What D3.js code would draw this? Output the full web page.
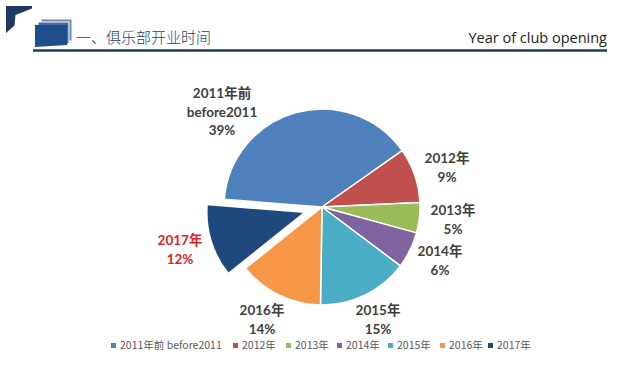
<!DOCTYPE html>
<html>
<head>
<meta charset="utf-8">
<script src="https://cdn.jsdelivr.net/npm/d3@7"></script>
<style>
  body { margin: 0; background: #fff; }
  svg { display: block; }
</style>
</head>
<body>
<div id="chart"></div>
<script>
const width = 640,
  height = 374;

// data
const categories = ["2011年前", "2012年", "2013年", "2014年", "2015年", "2016年", "2017年"];
const legendNames = ["2011年前 before2011", "2012年", "2013年", "2014年", "2015年", "2016年", "2017年"];
const shares = [39, 9, 5, 6, 15, 14, 12];
const colors = ["#4f81bd", "#c0504d", "#9bbb59", "#8064a2", "#4bacc6", "#f79646", "#1f497d"];

const titleCn = "一、俱乐部开业时间";
const titleEn = "Year of club opening";

const svg = d3.select("#chart")
  .append("svg")
  .attr("width", width)
  .attr("height", height);

// header decoration
svg.append("path")
  .attr("d", "M6,6 L32,6 L32,8.5 L15.5,15 L14.5,25.5 L6,33 Z")
  .attr("fill", "#1f3864");

// stacked pages icon
const icon = svg.append("g");
icon.append("rect").attr("x", 41).attr("y", 19).attr("width", 31).attr("height", 22)
  .attr("fill", "#6f88b0").attr("stroke", "#fff").attr("stroke-width", 1);
icon.append("rect").attr("x", 38).attr("y", 22).attr("width", 31).attr("height", 22)
  .attr("fill", "#4a6a9a").attr("stroke", "#fff").attr("stroke-width", 1);
icon.append("path")
  .attr("d", "M35,25 L67,25 L67,45 L35,47 Z")
  .attr("fill", "#1f4e8c");

svg.append("text")
  .attr("x", 76)
  .attr("y", 39)
  .attr("dominant-baseline", "middle")
  .attr("font-family", "'Noto Sans CJK SC', sans-serif")
  .attr("font-weight", 300)
  .attr("font-size", 15)
  .attr("fill", "#24406e")
  .text(titleCn);

svg.append("text")
  .attr("x", 607)
  .attr("y", 39)
  .attr("text-anchor", "end")
  .attr("dominant-baseline", "middle")
  .attr("font-family", "'Open Sans', sans-serif")
  .attr("font-size", 14.5)
  .attr("fill", "#222")
  .text(titleEn);

svg.append("line")
  .attr("x1", 33).attr("x2", 607)
  .attr("y1", 50.5).attr("y2", 50.5)
  .attr("stroke", "#1f3864")
  .attr("stroke-width", 2.5);

// pie
const cx = 322, cy = 207, r = 98;
const startAngle = -85.5 * Math.PI / 180;
const explodeIndex = 6, explodeDist = 18;

const pie = d3.pie()
  .sort(null)
  .value(d => d)
  .startAngle(startAngle)
  .endAngle(startAngle + 2 * Math.PI);

const arc = d3.arc().innerRadius(0).outerRadius(r);
const arcs = pie(shares);

const g = svg.append("g").attr("transform", `translate(${cx},${cy})`);

g.selectAll("path.slice")
  .data(arcs)
  .enter()
  .append("path")
  .attr("class", "slice")
  .attr("d", arc)
  .attr("fill", (d, i) => colors[i])
  .attr("stroke", "#fff")
  .attr("stroke-width", 1.5)
  .attr("stroke-linejoin", "round")
  .attr("transform", (d, i) => {
    if (i !== explodeIndex) return null;
    const a = (d.startAngle + d.endAngle) / 2;
    return `translate(${Math.sin(a) * explodeDist},${-Math.cos(a) * explodeDist})`;
  });

// labels
const labelLines = [
  ["2011年前", "before2011", "39%"],
  ["2012年", "9%"],
  ["2013年", "5%"],
  ["2014年", "6%"],
  ["2015年", "15%"],
  ["2016年", "14%"],
  ["2017年", "12%"]
];
const labelPos = [[222, 95], [447, 160], [453, 212], [440, 253], [378, 312], [262, 312], [180, 242]];
const labelColors = ["#404040", "#404040", "#404040", "#404040", "#404040", "#404040", "#e3211f"];

labelLines.forEach((lines, i) => {
  const t = svg.append("text")
    .attr("text-anchor", "middle")
    .attr("font-family", "Lato, 'Noto Sans CJK SC', sans-serif")
    .attr("font-weight", "bold")
    .attr("font-size", 13.5)
    .attr("fill", labelColors[i]);
  lines.forEach((s, j) => {
    t.append("tspan")
      .attr("x", labelPos[i][0])
      .attr("y", labelPos[i][1] + j * 18.5)
      .attr("dominant-baseline", "middle")
      .text(s);
  });
});

// legend
const legendX = [111, 233, 286, 337, 388, 440, 488];
const legend = svg.append("g");
legendNames.forEach((name, i) => {
  legend.append("rect")
    .attr("x", legendX[i])
    .attr("y", 343)
    .attr("width", 5)
    .attr("height", 5)
    .attr("fill", colors[i]);
  legend.append("text")
    .attr("x", legendX[i] + 9)
    .attr("y", 346)
    .attr("dominant-baseline", "middle")
    .attr("font-family", "'Noto Sans CJK SC', sans-serif")
    .attr("font-size", 10.5)
    .attr("fill", "#595959")
    .text(name);
});
</script>
</body>
</html>
